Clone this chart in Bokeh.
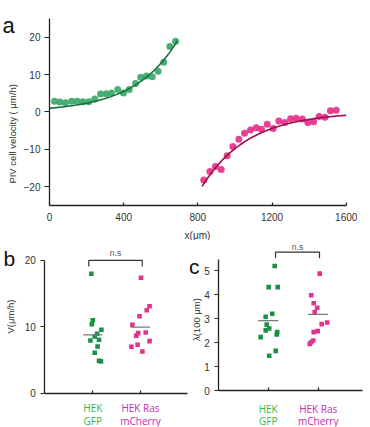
import numpy as np
from bokeh.plotting import figure
from bokeh.layouts import column, row
from bokeh.models import Range1d, FixedTicker
from bokeh.core.properties import value
from bokeh.embed import file_html
from bokeh.resources import INLINE

# ---------------- data ----------------
# (a) PIV cell velocity profile across the monolayer
gfp_x = [27, 56, 86, 119, 149, 180, 212, 244, 275, 306, 334, 368, 399, 430,
         464, 492, 523, 554, 586, 616, 649, 680]
gfp_v = [2.85, 2.7, 2.5, 2.9, 2.85, 2.75, 2.75, 3.5, 4.8, 4.9, 5.1, 6.0, 5.1,
         6.0, 7.6, 9.3, 9.6, 9.4, 10.9, 13.3, 17.5, 18.9]
ras_x = [832, 865, 895, 926, 958, 989, 1021, 1052, 1084, 1115, 1143, 1174,
         1206, 1237, 1269, 1300, 1330, 1363, 1393, 1424, 1454, 1485, 1515, 1546]
ras_v = [-18.2, -15.9, -14.6, -15.4, -11.7, -9.2, -7.3, -5.7, -4.8, -4.2, -4.6,
         -3.3, -4.4, -2.4, -2.8, -1.8, -1.7, -1.9, -2.8, -2.6, -1.2, -1.4, 0.3, 0.45]

# exponential fits: v = amp * exp((x - x0) / length)
gfp_fit = dict(amp=1.0, x0=0.0, length=234.0, x_min=0, x_max=689)
ras_fit = dict(amp=-19.9, x0=823.0, length=-250.0, x_min=823, x_max=1600)

# (b) mean speed per experiment, (c) correlation length per experiment
group_lines = [("HEK", "GFP"), ("HEK Ras", "mCherry")]
gfp_speed = [18.0, 11.0, 10.4, 9.56, 8.96, 8.55, 8.05, 7.95, 7.04, 6.09, 4.9, 4.8]
ras_speed = [17.4, 13.1, 12.5, 11.6, 10.3, 9.15, 9.05, 8.66, 7.84, 7.3, 7.0, 6.29]
speed_means = [8.8, 9.95]

gfp_len = [5.19, 4.31, 4.31, 3.2, 3.08, 2.75, 2.59, 2.51, 2.44, 2.34, 2.23, 1.66, 1.46]
ras_len = [4.87, 3.97, 3.64, 3.45, 3.27, 2.84, 2.77, 2.48, 2.44, 2.09, 2.02, 1.95]
len_means = [2.92, 3.18]

# horizontal jitter of each dot (category units)
gfp_speed_jit = [-0.03, 0.0, -0.02, 0.18, 0.09, 0.04, 0.13, -0.05, 0.10, 0.04, 0.13, 0.17]
ras_speed_jit = [0.01, 0.19, 0.13, -0.02, -0.17, 0.11, -0.05, -0.09, 0.19, -0.06, -0.19, 0.04]
gfp_len_jit = [0.13, 0.01, 0.19, 0.08, -0.05, -0.03, 0.02, -0.05, 0.18, 0.17, -0.15, 0.15, 0.02]
ras_len_jit = [0.03, -0.14, -0.09, -0.02, -0.07, 0.18, 0.07, -0.01, -0.09, -0.10, -0.14, -0.17]

# ---------------- styling ----------------
AX = "#222222"
TXT = "#333333"
FONT = "Liberation Sans"
GREEN_DOT = "#3aa86a"
GREEN_FIT = "#1b6e3a"
PINK_DOT = "#e6308a"
PINK_FIT = "#9e0f4e"
GREEN_SQ = "#1f8f47"
PINK_SQ = "#e2338c"
GREEN_TXT = "#2fb84a"
MAGENTA_TXT = "#c42ab2"


def make_fig(width, height, x_range, y_range):
    p = figure(width=width, height=height, x_range=x_range, y_range=y_range,
               output_backend="svg", toolbar_location=None,
               min_border_left=0, min_border_right=0,
               min_border_top=0, min_border_bottom=0)
    p.grid.visible = False
    p.outline_line_color = None
    p.background_fill_color = "white"
    p.border_fill_color = "white"
    for ax in p.axis:
        ax.axis_line_color = AX
        ax.axis_line_width = 1.3
        ax.major_tick_line_color = AX
        ax.major_tick_line_width = 1.2
        ax.minor_tick_line_color = None
        ax.major_label_text_font = FONT
        ax.major_label_text_font_size = "10px"
        ax.major_label_text_color = TXT
    return p


def put_text(p, x, y, text, size, color, align="center", baseline="middle",
             angle=0.0, font=FONT):
    p.text(x=[x], y=[y], text=[text], angle=angle, text_align=align,
           text_baseline=baseline, text_font=value(font), text_font_size=size,
           text_color=color)


# ---------------- panel a ----------------
pa = make_fig(370, 240, Range1d(-264.2, 1731.0), Range1d(-34.36, 29.81))
pa.xaxis.fixed_location = -25
pa.xaxis.bounds = (0, 1600)
pa.yaxis.fixed_location = 0
pa.yaxis.bounds = (-25, 25)
pa.xaxis.ticker = FixedTicker(ticks=[0, 400, 800, 1200, 1600])
pa.yaxis.ticker = FixedTicker(ticks=[-20, -10, 0, 10, 20])
pa.xaxis.major_tick_in = 3
pa.xaxis.major_tick_out = 0
pa.xaxis.major_label_standoff = 8
pa.yaxis.major_tick_in = 0
pa.yaxis.major_tick_out = 5
pa.yaxis.major_label_standoff = 4

for fit, xs, vs, dot, line in [(gfp_fit, gfp_x, gfp_v, GREEN_DOT, GREEN_FIT),
                               (ras_fit, ras_x, ras_v, PINK_DOT, PINK_FIT)]:
    pa.scatter(xs, vs, size=7, color=dot, alpha=0.92, line_color=None)
    xx = np.linspace(fit["x_min"], fit["x_max"], 200)
    yy = fit["amp"] * np.exp((xx - fit["x0"]) / fit["length"])
    pa.line(xx, yy, line_color=line, line_width=1.6)

put_text(pa, 798, -33.0, "x(μm)", "10px", TXT)
put_text(pa, -199.5, -5.5, "PIV cell velocity (  μm/h)", "9.5px", TXT, angle=np.pi / 2)
put_text(pa, -253.4, 23.1, "a", "22px", "#111111", align="left", baseline="alphabetic")


# ---------------- panels b and c ----------------
def dot_panel(width, x_range, y_range, x_bounds, y_ticks, y_bounds, y_label, y_label_xy,
              gfp_vals, gfp_jit, ras_vals, ras_jit, means, bracket, ns_y,
              letter, letter_xy, cat_y):
    p = make_fig(width, 187, x_range, y_range)
    p.xaxis.fixed_location = 0
    p.xaxis.bounds = x_bounds
    p.yaxis.fixed_location = x_bounds[0]
    p.yaxis.bounds = y_bounds
    p.yaxis.ticker = FixedTicker(ticks=y_ticks)
    p.yaxis.major_tick_in = 0
    p.yaxis.major_tick_out = 4
    p.yaxis.major_label_standoff = 5
    p.xaxis.ticker = FixedTicker(ticks=[1, 2])
    p.xaxis.major_label_overrides = {1: "", 2: ""}
    p.xaxis.major_tick_in = 3
    p.xaxis.major_tick_out = 0

    p.scatter(np.add(1, gfp_jit), gfp_vals, marker="square", size=4.6,
              color=GREEN_SQ, line_color=None)
    p.scatter(np.add(2, ras_jit), ras_vals, marker="square", size=4.6,
              color=PINK_SQ, line_color=None)
    p.segment(x0=[0.8, 1.8], x1=[1.2, 2.2], y0=means, y1=means,
              line_color="#7a7a7a", line_width=1.3)

    bx0, bx1, by_low, by_top = bracket
    p.line([bx0, bx0, bx1, bx1], [by_low, by_top, by_top, by_low],
           line_color="#333333", line_width=1.2)
    put_text(p, (bx0 + bx1) / 2, ns_y, "n.s", "8.5px", "#555555")
    put_text(p, letter_xy[0], letter_xy[1], letter, "21px", "#111111",
             align="left", baseline="alphabetic")
    put_text(p, y_label_xy[0], y_label_xy[1], y_label, "9.5px", TXT, angle=np.pi / 2)
    for i, ((l1, l2), col) in enumerate(zip(group_lines, [GREEN_TXT, MAGENTA_TXT])):
        put_text(p, i + 1, cat_y[0], l1, "10px", col, font="Open Sans")
        put_text(p, i + 1, cat_y[1], l2, "10px", col, font="Open Sans")
    return p


pb = dot_panel(188, Range1d(-0.935, 3.006), Range1d(-5.17, 23.01), (-0.006, 2.985),
               [0, 10, 20], (0, 20), "V(μm/h)", (-0.725, 11.56),
               gfp_speed, gfp_speed_jit, ras_speed, ras_speed_jit, speed_means,
               (0.916, 2.036, 19.1, 20.0), 21.06, "b", (-0.872, 20.35), (-2.16, -4.15))

pc = dot_panel(182, Range1d(-0.594, 3.046), Range1d(-1.525, 6.247), (0.012, 2.88),
               [0, 1, 2, 3, 4, 5], (0, 5.45), "λ(100 μm)", (-0.44, 2.96),
               gfp_len, gfp_len_jit, ras_len, ras_len_jit, len_means,
               (1.146, 2.026, 5.51, 5.76), 5.97, "c", (-0.585, 5.18), (-0.74, -1.25))

layout = column(pa, row(pb, pc))
open("out.html", "w").write(file_html(layout, INLINE))
